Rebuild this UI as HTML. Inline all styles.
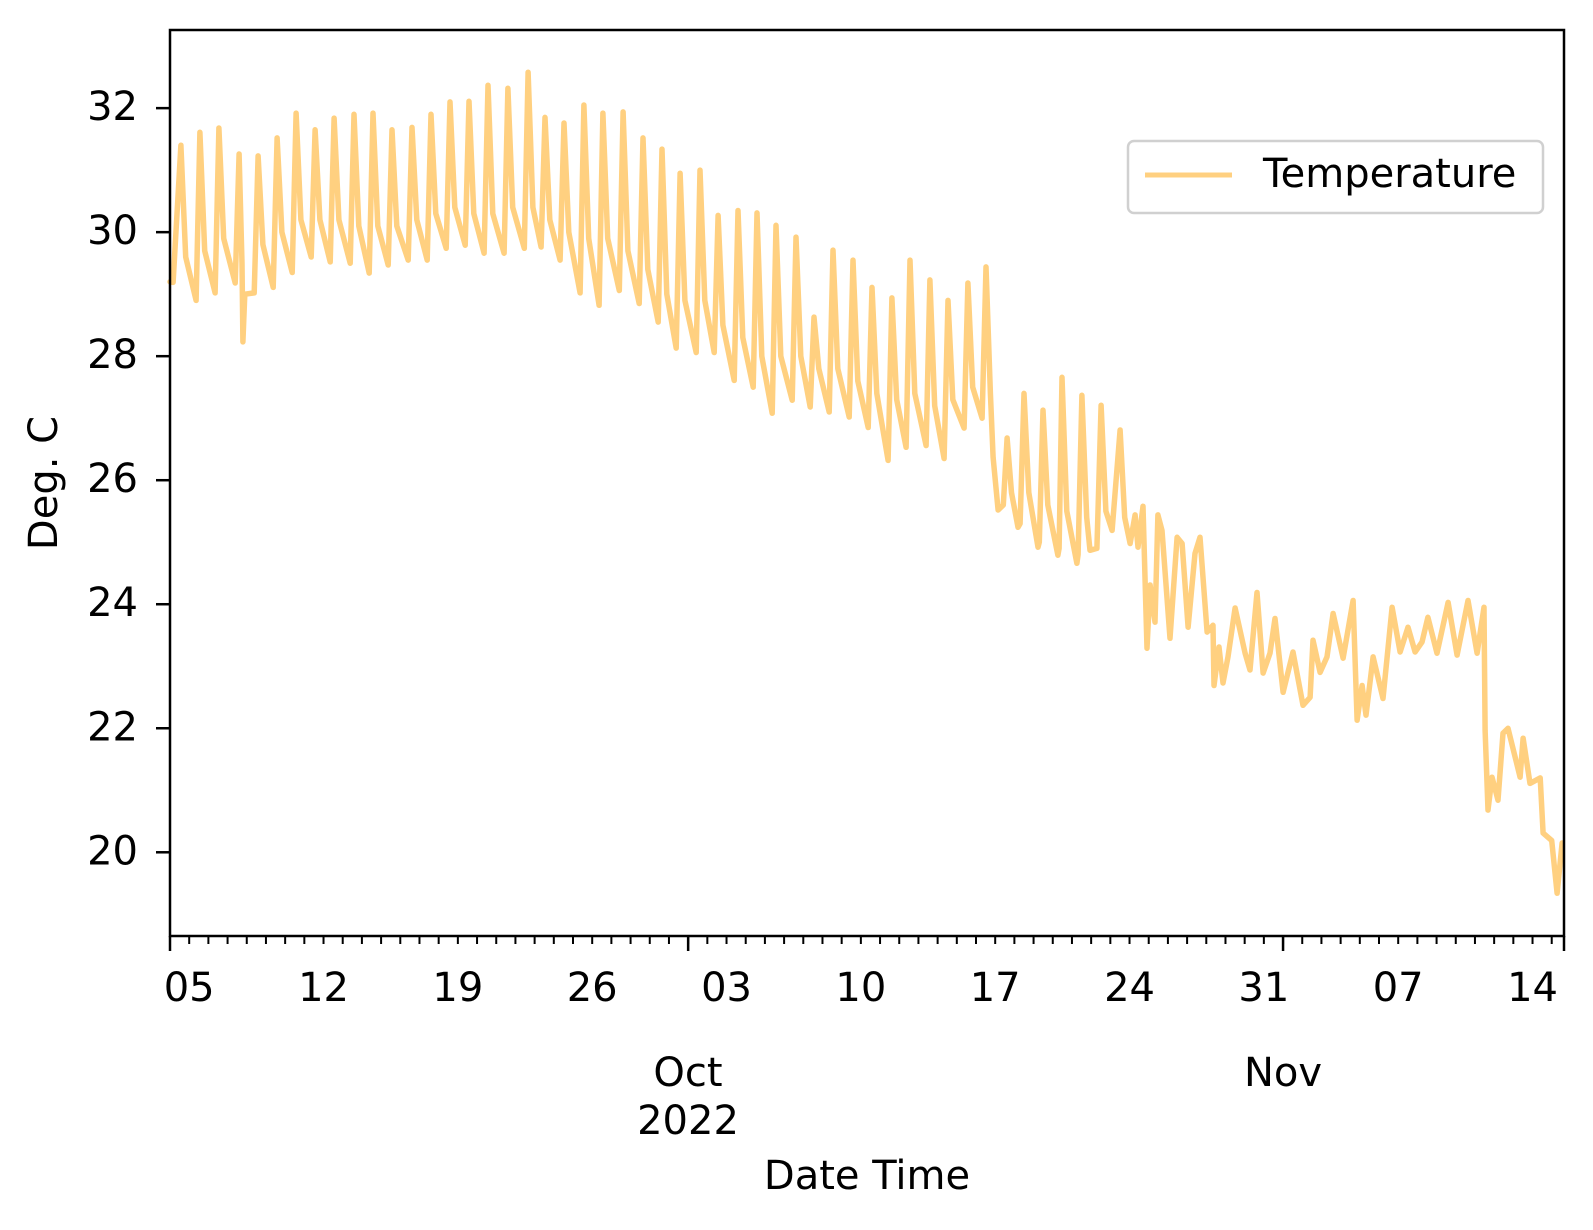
<!DOCTYPE html>
<html><head><meta charset="utf-8"><style>
html,body{margin:0;padding:0;background:#fff;}
svg{display:block;font-family:"DejaVu Sans","Liberation Sans",sans-serif;}
</style></head><body>
<svg id="chart" width="1593" height="1230" viewBox="0 0 1593 1230">
<rect x="0" y="0" width="1593" height="1230" fill="#fff"/>
<g id="plot"></g>
<g id="axes"></g>
<text x="46" y="483" font-size="40" text-anchor="middle" dominant-baseline="middle" transform="rotate(-90 46 483)">Deg. C</text>
<text x="688" y="1075" font-size="40" text-anchor="middle" dominant-baseline="middle">Oct</text>
<text x="688" y="1123" font-size="40" text-anchor="middle" dominant-baseline="middle">2022</text>
<text x="1283" y="1075" font-size="40" text-anchor="middle" dominant-baseline="middle">Nov</text>
<text x="867" y="1178" font-size="40" text-anchor="middle" dominant-baseline="middle">Date Time</text>
<g>
<rect x="1128" y="141" width="415" height="72" rx="6" fill="#fff" stroke="#d0d0d0" stroke-width="2.5"/>
<line x1="1145" y1="175" x2="1232" y2="175" stroke="#ffd080" stroke-width="5"/>
<text x="1263" y="176" font-size="40" dominant-baseline="middle">Temperature</text>
</g>
</svg>
<script>
const times = [0,0.16,0.57,0.82,1.36,1.56,1.81,2.35,2.55,2.8,3.4,3.6,3.75,3.8,3.9,4.39,4.59,4.84,5.38,5.58,5.83,6.37,6.57,6.82,7.36,7.56,7.81,8.35,8.55,8.8,9.39,9.59,9.84,10.38,10.58,10.83,11.37,11.57,11.82,12.41,12.61,12.86,13.4,13.6,13.85,14.39,14.59,14.84,15.38,15.58,15.83,16.37,16.57,16.82,17.41,17.61,17.86,18.46,18.66,18.91,19.34,19.54,19.79,20.33,20.53,20.78,21.37,21.57,21.82,22.36,22.56,22.81,23.41,23.61,23.86,24.45,24.65,24.9,25.44,25.64,25.89,26.38,26.58,26.83,27.42,27.62,27.87,28.36,28.56,28.81,29.4,29.6,29.85,30.39,30.59,30.84,31.38,31.58,31.83,32.42,32.62,32.87,33.36,33.56,33.81,34.35,34.55,34.8,35.39,35.59,35.84,36.38,36.58,36.83,37.42,37.62,37.87,38.36,38.56,38.81,39.4,39.6,39.85,40.34,40.54,40.79,41.38,41.58,41.83,42.32,42.52,42.75,42.89,43.15,43.42,43.62,43.85,44.19,44.3,44.5,44.75,45.23,45.3,45.49,45.74,46.27,46.33,46.48,46.73,47.26,47.32,47.52,47.77,47.94,48.3,48.52,48.77,49.09,49.51,49.75,50.03,50.29,50.44,50.7,50.91,51.07,51.33,51.48,51.69,52.11,52.48,52.74,53.05,53.41,53.67,54.04,54.35,54.4,54.66,54.87,55.13,55.5,56.02,56.28,56.64,56.96,57.32,57.58,58.0,58.52,59.04,59.41,59.56,59.93,60.29,60.61,61.13,61.65,61.86,62.12,62.32,62.69,63.21,63.68,64.1,64.51,64.88,65.24,65.55,66.02,66.6,67.07,67.64,68.11,68.47,68.53,68.68,68.89,69.2,69.46,69.72,70.35,70.51,70.87,71.4,71.55,72.0,72.28,72.54];
const temps = [29.2,29.19,31.4,29.6,28.9,31.61,29.7,29.02,31.68,29.9,29.18,31.26,29.5,28.23,29.0,29.02,31.23,29.8,29.11,31.52,30.0,29.35,31.92,30.2,29.6,31.65,30.2,29.52,31.84,30.2,29.5,31.9,30.1,29.34,31.92,30.1,29.47,31.65,30.1,29.55,31.69,30.2,29.55,31.9,30.3,29.74,32.1,30.4,29.79,32.11,30.3,29.66,32.37,30.3,29.66,32.32,30.4,29.74,32.58,30.4,29.76,31.85,30.2,29.55,31.76,30.0,29.02,32.05,29.9,28.82,31.92,29.9,29.06,31.94,29.7,28.85,31.52,29.4,28.55,31.34,29.0,28.13,30.95,28.9,28.06,31.0,28.9,28.06,30.27,28.5,27.61,30.35,28.3,27.5,30.31,28.0,27.08,30.11,28.0,27.29,29.92,28.0,27.18,28.63,27.8,27.1,29.71,27.8,27.02,29.55,27.6,26.85,29.11,27.4,26.32,28.94,27.3,26.53,29.55,27.4,26.56,29.23,27.2,26.35,28.9,27.3,26.84,29.18,27.5,27.0,29.44,27.4,26.37,25.52,25.6,26.68,25.8,25.24,25.3,27.4,25.8,24.92,25.0,27.13,25.6,24.79,24.9,27.66,25.5,24.66,24.8,27.37,25.4,24.87,24.9,27.21,25.5,25.19,26.81,25.4,24.98,25.44,24.92,25.58,23.29,24.31,23.71,25.44,25.19,23.45,25.08,24.98,23.63,24.82,25.08,23.55,23.66,22.69,23.31,22.73,23.15,23.94,23.21,22.94,24.19,22.89,23.21,23.77,22.58,23.23,22.37,22.5,23.42,22.9,23.15,23.85,23.13,24.06,22.13,22.69,22.21,23.15,22.48,23.95,23.23,23.63,23.23,23.39,23.79,23.21,24.03,23.18,24.06,23.21,23.95,21.97,20.68,21.21,20.84,21.92,22.0,21.21,21.84,21.11,21.2,20.31,20.19,19.34,20.15];
const yTicks = [20,22,24,26,28,30,32];
const weekTickDays = [1,8,15,22,29,36,43,50,57,64,71];
const weekTickLabels = ["05","12","19","26","03","10","17","24","31","07","14"];
const monthTickDays = [27,58];

const L=170,R=1564,T=30,B=936;
const xDomain=[0,72.64];
const yDomain=[18.65,33.26];
function xs(d){return L+(d-xDomain[0])/(xDomain[1]-xDomain[0])*(R-L);}
function ys(v){return B-(v-yDomain[0])/(yDomain[1]-yDomain[0])*(B-T);}
const NS="http://www.w3.org/2000/svg";
function mk(tag,attrs,parent){const e=document.createElementNS(NS,tag);for(const k in attrs)e.setAttribute(k,attrs[k]);parent.appendChild(e);return e;}
const plot=document.getElementById('plot'),axes=document.getElementById('axes');

let d='';
for(let i=0;i<times.length;i++){d+=(i?'L':'M')+xs(times[i]).toFixed(1)+' '+ys(temps[i]).toFixed(1);}
const line=mk('path',{d:d,fill:'none',stroke:'#ffd080','stroke-width':5.5,'stroke-linejoin':'round','stroke-linecap':'round'},plot);



const frame=mk('rect',{x:L,y:T,width:R-L,height:B-T,fill:'none',stroke:'#000','stroke-width':2.5},axes);



yTicks.forEach(v=>{
  const y=ys(v);
  const t=mk('line',{x1:L-14,y1:y,x2:L,y2:y,stroke:'#000','stroke-width':2.5},axes);
  
  
  const lb=mk('text',{x:L-32,y:y+1,'font-size':40,'text-anchor':'end','dominant-baseline':'middle'},axes);
  lb.textContent=String(v);
  
  
});
for(let day=1;day<=72;day++){
  const x=xs(day);
  const t=mk('line',{x1:x,y1:B,x2:x,y2:B+8,stroke:'#000','stroke-width':2},axes);
  
  
}
monthTickDays.concat([xDomain[0],xDomain[1]]).forEach(day=>{
  const x=xs(day);
  const t=mk('line',{x1:x,y1:B,x2:x,y2:B+15,stroke:'#000','stroke-width':2.5},axes);
  
  
});
weekTickDays.forEach((day,i)=>{
  const lb=mk('text',{x:xs(day),y:990,'font-size':40,'text-anchor':'middle','dominant-baseline':'middle'},axes);
  lb.textContent=weekTickLabels[i];
  
  
});
</script>
</body></html>
